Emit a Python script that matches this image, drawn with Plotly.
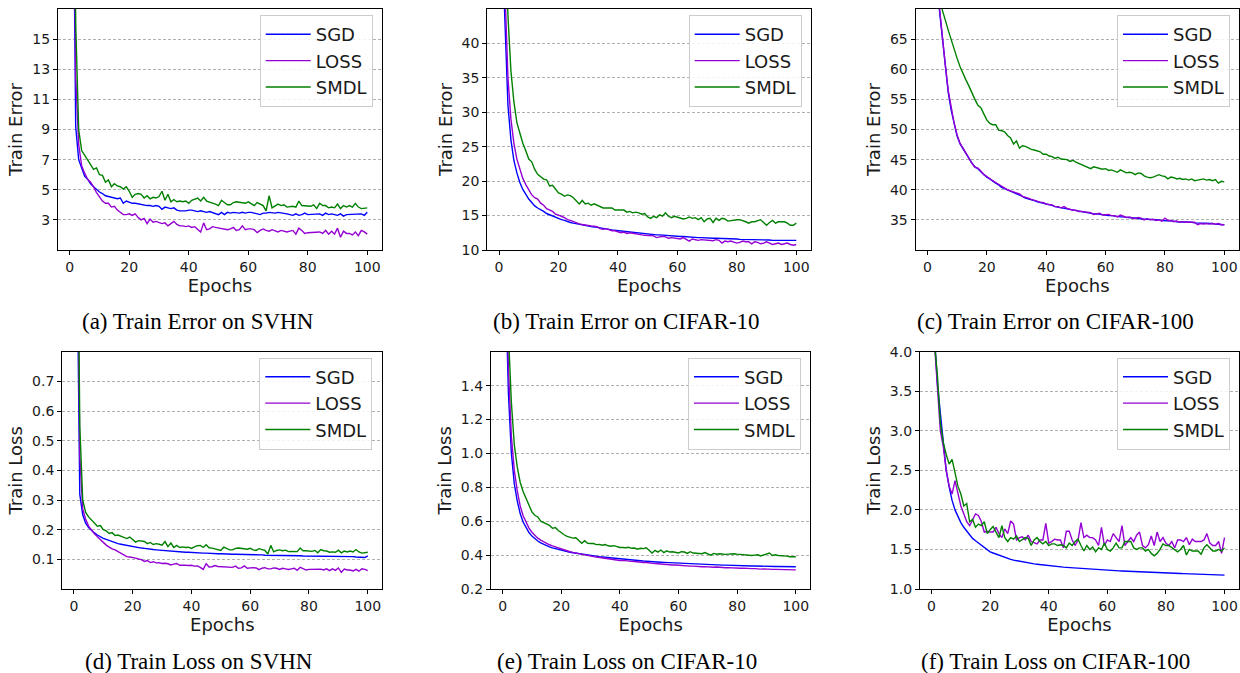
import plotly.graph_objects as go

epochs = list(range(1, 101))

# ---------------- (a) Train Error on SVHN ----------------
svhn_err_sgd = [30.0, 9.2, 7.0, 6.4, 5.9, 5.7, 5.4, 5.2, 5.0, 4.85,
                4.75, 4.6, 4.55, 4.5, 4.45, 4.4, 4.45, 4.1, 4.25, 4.15,
                4.1, 4.1, 4.05, 4.0, 4.0, 3.95, 3.95, 3.9, 3.95, 3.9,
                3.7, 3.85, 3.8, 3.75, 3.8, 3.65, 3.6, 3.6, 3.6, 3.65,
                3.65, 3.6, 3.55, 3.6, 3.55, 3.5, 3.55, 3.5, 3.45, 3.35,
                3.5, 3.35, 3.5, 3.45, 3.5, 3.45, 3.45, 3.5, 3.45, 3.5,
                3.5, 3.45, 3.4, 3.35, 3.45, 3.45, 3.5, 3.45, 3.45, 3.5,
                3.45, 3.45, 3.4, 3.35, 3.3, 3.4, 3.3, 3.35, 3.45, 3.35,
                3.35, 3.4, 3.35, 3.4, 3.3, 3.45, 3.35, 3.4, 3.35, 3.3,
                3.4, 3.25, 3.35, 3.35, 3.4, 3.35, 3.35, 3.4, 3.3, 3.5]
svhn_err_loss = [35.0, 12.5, 8.0, 6.6, 6.1, 5.7, 5.5, 5.2, 4.8, 4.5,
                 4.25, 4.1, 4.1, 3.85, 3.9, 3.65, 3.5, 3.35, 3.35, 3.4,
                 3.3, 3.4, 3.15, 3.0, 3.1, 2.75, 3.05, 2.85, 2.9, 2.8,
                 2.75, 2.8, 2.6, 2.75, 2.9, 2.7, 2.6, 2.6, 2.55, 2.6,
                 2.5, 2.55, 2.4, 2.2, 2.8, 2.35, 2.4, 2.55, 2.5, 2.45,
                 2.45, 2.4, 2.35, 2.4, 2.5, 2.3, 2.35, 2.6, 2.35, 2.4,
                 2.4, 2.35, 2.15, 2.3, 2.4, 2.3, 2.25, 2.35, 2.3, 2.2,
                 2.3, 2.25, 2.2, 2.25, 2.3, 2.05, 2.45, 2.3, 2.1, 2.15,
                 2.15, 2.2, 2.15, 2.2, 2.1, 2.3, 2.05, 2.25, 2.05, 2.45,
                 1.85, 2.25, 2.1, 2.1, 2.0, 2.2, 1.95, 2.3, 2.2, 2.05]
svhn_err_smdl = [40.0, 16.0, 9.0, 7.6, 7.3, 7.0, 6.7, 6.35, 6.45, 6.0,
                 5.95, 5.5, 5.65, 5.2, 5.4, 5.25, 5.2, 5.05, 5.2, 4.9,
                 4.5, 4.7, 4.75, 4.7, 4.45, 4.6, 4.4, 4.5, 4.45, 4.55,
                 4.9, 4.3, 4.7, 4.2, 4.35, 4.2, 4.25, 4.2, 4.25, 4.1,
                 4.3, 4.4, 4.45, 4.25, 4.5, 4.25, 4.2, 4.1, 4.05, 3.95,
                 4.3, 4.15, 4.0, 4.0, 4.15, 4.2, 4.15, 4.1, 4.1, 4.2,
                 4.05, 3.95, 4.15, 4.05, 3.95, 3.6, 4.6, 3.8, 3.95, 4.05,
                 3.95, 4.0, 3.85, 3.9, 3.9, 3.85, 4.25, 3.95, 3.95, 3.9,
                 3.9, 4.0, 3.75, 4.1, 3.95, 3.95, 3.8, 3.85, 3.8, 4.05,
                 3.75, 3.95, 3.85, 3.95, 3.85, 4.1, 3.85, 3.75, 3.8, 3.8]

# ---------------- (b) Train Error on CIFAR-10 ----------------
c10_err_sgd = [55.0, 43.0, 31.0, 26.0, 23.0, 21.2, 19.8, 18.8, 18.0, 17.4,
               16.9, 16.4, 16.1, 15.9, 15.6, 15.3, 15.1, 14.9, 14.7, 14.5,
               14.4, 14.3, 14.1, 14.0, 13.9, 13.8, 13.7, 13.6, 13.55, 13.5,
               13.4, 13.35, 13.3, 13.2, 13.1, 13.05, 13.0, 12.9, 12.85, 12.8,
               12.75, 12.7, 12.65, 12.6, 12.55, 12.5, 12.45, 12.4, 12.35, 12.3,
               12.3, 12.25, 12.2, 12.2, 12.15, 12.1, 12.1, 12.05, 12.0, 12.0,
               11.95, 11.95, 11.9, 11.9, 11.85, 11.85, 11.8, 11.8, 11.75, 11.75,
               11.75, 11.7, 11.7, 11.7, 11.65, 11.65, 11.6, 11.6, 11.6, 11.6,
               11.55, 11.55, 11.55, 11.5, 11.5, 11.5, 11.5, 11.45, 11.45, 11.45,
               11.45, 11.4, 11.4, 11.4, 11.4, 11.4, 11.4, 11.35, 11.4, 11.4]
c10_err_loss = [60.0, 46.0, 35.0, 29.0, 25.5, 23.2, 21.6, 20.4, 19.5, 18.7,
                18.0, 17.6, 17.4, 16.8, 16.5, 16.0, 15.8, 15.6, 15.2, 15.1,
                14.9, 14.7, 14.4, 14.3, 14.1, 13.9, 13.8, 13.7, 13.6, 13.55,
                13.5, 13.45, 13.4, 13.1, 13.0, 13.1, 12.9, 12.8, 12.8, 12.6,
                12.5, 12.6, 12.4, 12.5, 12.4, 12.3, 12.2, 12.2, 12.15, 12.1,
                12.1, 12.05, 11.8, 11.9, 12.0, 11.9, 11.7, 11.8, 11.75, 11.7,
                11.6, 11.8, 11.6, 11.3, 11.6, 11.5, 11.4, 11.5, 11.45, 11.4,
                11.3, 11.35, 11.5, 11.4, 11.0, 11.3, 11.2, 11.3, 11.15, 11.0,
                11.1, 11.3, 11.2, 11.2, 10.9, 11.2, 11.1, 10.9, 11.0, 11.2,
                11.0, 10.8, 10.9, 11.0, 10.8, 10.9, 11.0, 10.8, 10.7, 10.8]
c10_err_smdl = [70.0, 55.0, 44.0, 36.0, 31.5, 28.5, 27.0, 25.5, 24.4, 23.2,
                22.8, 21.7, 21.0, 20.6, 20.3, 20.2, 19.3, 19.4, 18.9, 18.3,
                18.1, 17.8, 18.0, 17.9, 17.6, 17.1, 16.7, 17.2, 16.7, 16.8,
                16.5, 16.7, 16.5, 16.3, 16.1, 16.1, 16.1, 16.1, 15.8, 15.8,
                15.7, 15.8, 15.5, 15.6, 15.4, 15.5, 15.4, 15.2, 15.3, 14.8,
                14.6, 14.9, 14.7, 15.1, 14.9, 15.4, 14.9, 14.7, 14.9, 14.8,
                14.7, 14.5, 14.6, 14.8, 14.6, 14.7, 14.4, 14.7, 14.1, 14.5,
                14.6, 14.0, 14.6, 14.3, 14.6, 14.5, 14.2, 14.3, 14.4, 14.4,
                14.4, 14.3, 14.1, 13.9, 14.1, 14.1, 14.3, 14.4, 14.0, 13.6,
                14.0, 14.3, 13.9, 14.1, 14.1, 14.1, 13.9, 13.6, 13.6, 13.9]

# ---------------- (c) Train Error on CIFAR-100 ----------------
c100_err_sgd = [90.0, 82.0, 76.0, 70.0, 65.0, 60.5, 56.2, 53.2, 50.8, 48.9,
                47.6, 46.8, 45.9, 45.1, 44.4, 43.8, 43.5, 43.0, 42.5, 42.1,
                41.8, 41.4, 41.1, 40.8, 40.4, 40.2, 40.0, 39.7, 39.5, 39.3,
                39.1, 38.9, 38.6, 38.5, 38.3, 38.2, 38.0, 37.9, 37.7, 37.6,
                37.5, 37.4, 37.2, 37.1, 37.0, 36.9, 36.8, 36.7, 36.6, 36.5,
                36.4, 36.3, 36.3, 36.2, 36.1, 36.0, 36.0, 35.9, 35.8, 35.8,
                35.7, 35.7, 35.6, 35.6, 35.5, 35.5, 35.4, 35.4, 35.3, 35.3,
                35.2, 35.2, 35.1, 35.1, 35.1, 35.0, 35.0, 35.0, 34.9, 34.9,
                34.8, 34.8, 34.8, 34.7, 34.7, 34.7, 34.6, 34.6, 34.6, 34.5,
                34.5, 34.5, 34.4, 34.4, 34.4, 34.4, 34.3, 34.3, 34.3, 34.2]
c100_err_loss = [90.0, 82.0, 76.0, 70.5, 65.3, 60.8, 56.5, 53.4, 51.0, 49.1,
                 47.7, 46.9, 46.0, 45.2, 44.4, 43.7, 43.6, 43.1, 42.5, 42.2,
                 41.8, 41.5, 41.2, 40.9, 40.5, 40.3, 40.0, 39.8, 39.6, 39.5,
                 39.3, 38.9, 38.8, 38.6, 38.4, 38.3, 38.1, 37.9, 37.9, 37.6,
                 37.6, 37.5, 37.2, 37.2, 37.0, 37.2, 36.9, 36.7, 36.6, 36.6,
                 36.4, 36.4, 36.3, 36.3, 36.2, 35.9, 36.0, 36.1, 35.8, 35.8,
                 35.9, 35.7, 35.7, 35.5, 35.8, 35.6, 35.4, 35.5, 35.3, 35.2,
                 35.4, 35.3, 35.0, 35.2, 35.0, 35.1, 34.9, 35.0, 34.8, 35.3,
                 34.9, 34.9, 34.7, 34.8, 34.6, 34.7, 34.6, 34.6, 34.5, 34.6,
                 34.2, 34.4, 34.3, 34.4, 34.3, 34.4, 34.3, 34.4, 34.2, 34.2]
c100_err_smdl = [85.0, 79.0, 74.0, 71.5, 70.0, 68.2, 66.5, 64.8, 63.2, 61.8,
                 60.4, 59.2, 58.2, 57.2, 56.0, 55.0, 54.0, 53.6, 52.6, 51.6,
                 51.0, 50.8, 50.8, 49.9, 49.8, 49.6, 49.0, 48.6, 47.6, 48.1,
                 46.9, 47.3, 47.2, 46.9, 46.7, 46.6, 46.5, 46.3, 45.9, 45.9,
                 45.6, 45.5, 45.2, 45.4, 45.1, 45.1, 45.0, 44.7, 44.9, 44.6,
                 44.4, 44.2, 44.0, 43.7, 43.5, 43.8, 43.7, 43.5, 43.4, 43.5,
                 43.2, 43.3, 43.1, 42.9, 43.3, 43.0, 42.8, 42.9, 42.8, 42.5,
                 42.8, 42.7, 42.3, 42.1, 42.0, 42.1, 42.3, 42.5, 42.3, 42.2,
                 41.8, 42.1, 42.0, 41.8, 41.9, 41.7, 41.8, 41.6, 41.8, 41.5,
                 41.6, 41.7, 41.8, 41.6, 41.7, 41.5, 41.7, 41.1, 41.4, 41.3]

# ---------------- (d) Train Loss on SVHN ----------------
svhn_loss_sgd = [1.2, 0.32, 0.25, 0.222, 0.207, 0.197, 0.189, 0.182, 0.176, 0.171,
                 0.167, 0.163, 0.159, 0.156, 0.153, 0.151, 0.149, 0.146, 0.144, 0.142,
                 0.141, 0.139, 0.138, 0.137, 0.135, 0.134, 0.133, 0.132, 0.131, 0.13,
                 0.129, 0.128, 0.128, 0.127, 0.126, 0.126, 0.125, 0.124, 0.124, 0.123,
                 0.123, 0.122, 0.122, 0.121, 0.121, 0.12, 0.12, 0.12, 0.119, 0.119,
                 0.118, 0.118, 0.118, 0.117, 0.117, 0.117, 0.116, 0.116, 0.116, 0.116,
                 0.115, 0.115, 0.115, 0.115, 0.114, 0.114, 0.114, 0.114, 0.113, 0.113,
                 0.113, 0.112, 0.113, 0.112, 0.112, 0.112, 0.112, 0.111, 0.111, 0.111,
                 0.111, 0.111, 0.11, 0.11, 0.11, 0.11, 0.11, 0.11, 0.109, 0.109,
                 0.109, 0.109, 0.109, 0.109, 0.109, 0.108, 0.108, 0.108, 0.106, 0.112]
svhn_loss_loss = [1.5, 0.45, 0.27, 0.235, 0.212, 0.197, 0.186, 0.176, 0.166, 0.157,
                  0.148, 0.141, 0.135, 0.132, 0.126, 0.122, 0.116, 0.109, 0.108, 0.107,
                  0.104, 0.101, 0.099, 0.093, 0.096, 0.089, 0.092, 0.088, 0.089, 0.086,
                  0.087, 0.085, 0.081, 0.084, 0.086, 0.08, 0.081, 0.08, 0.079, 0.08,
                  0.077, 0.078, 0.073, 0.066, 0.085, 0.074, 0.075, 0.079, 0.076, 0.075,
                  0.075, 0.073, 0.072, 0.073, 0.077, 0.07, 0.071, 0.078, 0.07, 0.072,
                  0.072, 0.071, 0.065, 0.07, 0.072, 0.068, 0.068, 0.071, 0.07, 0.066,
                  0.07, 0.068, 0.066, 0.068, 0.07, 0.063, 0.073, 0.069, 0.064, 0.066,
                  0.066, 0.067, 0.065, 0.067, 0.064, 0.068, 0.062, 0.068, 0.063, 0.071,
                  0.056, 0.067, 0.064, 0.064, 0.061, 0.066, 0.06, 0.068, 0.066, 0.062]
svhn_loss_smdl = [1.6, 0.55, 0.3, 0.258, 0.243, 0.232, 0.22, 0.212, 0.214, 0.2,
                  0.196, 0.187, 0.19, 0.18, 0.182, 0.178, 0.176, 0.17, 0.175, 0.165,
                  0.158, 0.163, 0.162, 0.16, 0.153, 0.157, 0.15, 0.153, 0.151, 0.148,
                  0.16, 0.143, 0.155, 0.14, 0.147, 0.14, 0.142, 0.14, 0.141, 0.137,
                  0.142, 0.146, 0.147, 0.14, 0.149, 0.139, 0.138, 0.135, 0.134, 0.13,
                  0.141, 0.136, 0.132, 0.132, 0.137, 0.138, 0.136, 0.134, 0.134, 0.137,
                  0.132, 0.13, 0.136, 0.133, 0.13, 0.118, 0.147, 0.125, 0.13, 0.132,
                  0.129, 0.131, 0.126, 0.127, 0.127, 0.126, 0.138, 0.129, 0.129, 0.127,
                  0.127, 0.13, 0.122, 0.133, 0.129, 0.128, 0.124, 0.125, 0.124, 0.131,
                  0.122, 0.128, 0.125, 0.128, 0.125, 0.133, 0.125, 0.121, 0.123, 0.124]

# ---------------- (e) Train Loss on CIFAR-10 ----------------
c10_loss_sgd = [2.0, 1.35, 1.0, 0.82, 0.72, 0.645, 0.595, 0.56, 0.533, 0.512,
                0.496, 0.483, 0.472, 0.463, 0.456, 0.449, 0.443, 0.438, 0.433, 0.429,
                0.425, 0.421, 0.417, 0.414, 0.411, 0.408, 0.405, 0.402, 0.4, 0.397,
                0.395, 0.393, 0.391, 0.389, 0.387, 0.385, 0.383, 0.381, 0.379, 0.377,
                0.376, 0.374, 0.373, 0.371, 0.37, 0.368, 0.366, 0.365, 0.364, 0.362,
                0.361, 0.36, 0.359, 0.358, 0.357, 0.356, 0.355, 0.354, 0.353, 0.352,
                0.351, 0.35, 0.349, 0.349, 0.348, 0.347, 0.346, 0.346, 0.345, 0.344,
                0.344, 0.343, 0.342, 0.342, 0.341, 0.341, 0.34, 0.34, 0.339, 0.339,
                0.338, 0.338, 0.337, 0.337, 0.336, 0.336, 0.335, 0.335, 0.335, 0.334,
                0.334, 0.333, 0.333, 0.333, 0.332, 0.332, 0.332, 0.331, 0.331, 0.331]
c10_loss_loss = [2.2, 1.5, 1.1, 0.9, 0.78, 0.69, 0.632, 0.59, 0.559, 0.535,
                 0.516, 0.5, 0.488, 0.478, 0.469, 0.461, 0.454, 0.448, 0.441, 0.436,
                 0.43, 0.425, 0.42, 0.416, 0.412, 0.408, 0.404, 0.401, 0.397, 0.394,
                 0.391, 0.389, 0.386, 0.384, 0.381, 0.379, 0.377, 0.375, 0.372, 0.368,
                 0.369, 0.366, 0.366, 0.363, 0.362, 0.359, 0.358, 0.356, 0.356, 0.353,
                 0.352, 0.35, 0.349, 0.347, 0.347, 0.345, 0.344, 0.342, 0.342, 0.34,
                 0.339, 0.338, 0.337, 0.335, 0.335, 0.333, 0.333, 0.331, 0.332, 0.33,
                 0.329, 0.328, 0.33, 0.327, 0.326, 0.325, 0.326, 0.324, 0.323, 0.323,
                 0.322, 0.323, 0.321, 0.321, 0.32, 0.32, 0.318, 0.317, 0.319, 0.317,
                 0.317, 0.316, 0.316, 0.316, 0.315, 0.314, 0.315, 0.314, 0.313, 0.313]
c10_loss_smdl = [2.5, 1.7, 1.3, 1.05, 0.92, 0.83, 0.775, 0.735, 0.695, 0.655,
                 0.635, 0.625, 0.6, 0.59, 0.585, 0.575, 0.558, 0.563, 0.545, 0.53,
                 0.52, 0.51, 0.505, 0.5, 0.502, 0.488, 0.47, 0.485, 0.47, 0.468,
                 0.468, 0.462, 0.463, 0.458, 0.462, 0.455, 0.452, 0.456, 0.45, 0.445,
                 0.445, 0.443, 0.446, 0.44, 0.442, 0.435, 0.44, 0.438, 0.443, 0.43,
                 0.412, 0.428, 0.418, 0.43, 0.415, 0.425, 0.418, 0.42, 0.415, 0.413,
                 0.42, 0.418, 0.41, 0.42, 0.412, 0.41, 0.412, 0.408, 0.415, 0.408,
                 0.4, 0.41, 0.405, 0.408, 0.405, 0.404, 0.406, 0.408, 0.408, 0.406,
                 0.404, 0.402, 0.398, 0.4, 0.398, 0.4, 0.402, 0.395, 0.4, 0.404,
                 0.412, 0.398, 0.402, 0.398, 0.398, 0.396, 0.394, 0.39, 0.388, 0.39]

# ---------------- (f) Train Loss on CIFAR-100 ----------------
c100_loss_sgd = [4.2, 3.6, 3.22, 2.84, 2.5, 2.29, 2.12, 2.0, 1.91, 1.84,
                 1.78, 1.73, 1.68, 1.64, 1.61, 1.58, 1.55, 1.52, 1.5, 1.47,
                 1.455, 1.44, 1.425, 1.41, 1.395, 1.385, 1.375, 1.365, 1.357, 1.35,
                 1.343, 1.336, 1.33, 1.324, 1.318, 1.313, 1.308, 1.303, 1.299, 1.295,
                 1.291, 1.287, 1.283, 1.28, 1.276, 1.273, 1.27, 1.267, 1.264, 1.261,
                 1.258, 1.256, 1.253, 1.251, 1.248, 1.246, 1.244, 1.241, 1.239, 1.237,
                 1.235, 1.233, 1.231, 1.229, 1.227, 1.225, 1.223, 1.222, 1.22, 1.218,
                 1.217, 1.215, 1.213, 1.212, 1.21, 1.209, 1.207, 1.206, 1.204, 1.203,
                 1.201, 1.2, 1.199, 1.197, 1.196, 1.195, 1.193, 1.192, 1.191, 1.19,
                 1.188, 1.187, 1.186, 1.185, 1.184, 1.183, 1.181, 1.18, 1.179, 1.175]
c100_loss_loss = [4.1, 3.6, 3.0, 2.8, 2.5, 2.3, 2.2, 2.37, 2.2, 2.05,
                  1.95, 1.85, 1.8, 1.88, 1.95, 1.93, 1.85, 1.72, 1.73, 1.72,
                  1.72, 1.78, 1.7, 1.65, 1.76, 1.7, 1.86, 1.82, 1.62, 1.65,
                  1.66, 1.62, 1.68, 1.6, 1.58, 1.57, 1.62, 1.62, 1.83, 1.58,
                  1.6, 1.63, 1.62, 1.62, 1.52, 1.73, 1.73, 1.62, 1.55, 1.62,
                  1.84, 1.65, 1.68, 1.65, 1.65, 1.62, 1.55, 1.78, 1.55, 1.62,
                  1.6, 1.7, 1.65, 1.6, 1.8, 1.55, 1.6, 1.65, 1.6, 1.68,
                  1.72, 1.55, 1.52, 1.56, 1.67, 1.55, 1.72, 1.6, 1.65, 1.58,
                  1.55, 1.6, 1.52, 1.62, 1.62, 1.6, 1.65, 1.56, 1.63, 1.6,
                  1.6, 1.6, 1.62, 1.7, 1.58, 1.55, 1.55, 1.6, 1.45, 1.65]
c100_loss_smdl = [4.1, 3.7, 3.1, 2.85, 2.7, 2.58, 2.64, 2.45, 2.3, 2.2,
                  2.05, 2.08, 1.85, 1.88, 1.78, 1.82, 1.8, 1.85, 1.7, 1.75,
                  1.79, 1.72, 1.65, 1.8, 1.65, 1.6, 1.65, 1.63, 1.67, 1.6,
                  1.62, 1.65, 1.64, 1.55, 1.62, 1.65, 1.6, 1.57, 1.6, 1.55,
                  1.57, 1.57, 1.55, 1.56, 1.55, 1.52, 1.58, 1.55, 1.6, 1.63,
                  1.55, 1.48, 1.55, 1.5, 1.53, 1.47, 1.52, 1.5, 1.58, 1.5,
                  1.48, 1.52, 1.58, 1.52, 1.52, 1.6, 1.6, 1.6, 1.52, 1.5,
                  1.52, 1.52, 1.48, 1.5, 1.45, 1.42, 1.45, 1.5, 1.57, 1.55,
                  1.55, 1.52, 1.5, 1.47, 1.5, 1.55, 1.43, 1.5, 1.48, 1.48,
                  1.48, 1.44, 1.52, 1.56, 1.52, 1.48, 1.48, 1.5, 1.48, 1.52]

series_names = ["SGD", "LOSS", "SMDL"]
series_colors = ["#0000ff", "#9400d3", "#008000"]
x_ticks = [0, 20, 40, 60, 80, 100]

panels = [
    dict(data=[svhn_err_sgd, svhn_err_loss, svhn_err_smdl], ylabel="Train Error",
         caption="(a) Train Error on SVHN", yrange=[1, 17],
         yticks=[3, 5, 7, 9, 11, 13, 15], yfmt="{:d}"),
    dict(data=[c10_err_sgd, c10_err_loss, c10_err_smdl], ylabel="Train Error",
         caption="(b) Train Error on CIFAR-10", yrange=[10, 45],
         yticks=[10, 15, 20, 25, 30, 35, 40], yfmt="{:d}"),
    dict(data=[c100_err_sgd, c100_err_loss, c100_err_smdl], ylabel="Train Error",
         caption="(c) Train Error on CIFAR-100", yrange=[30, 70],
         yticks=[35, 40, 45, 50, 55, 60, 65], yfmt="{:d}"),
    dict(data=[svhn_loss_sgd, svhn_loss_loss, svhn_loss_smdl], ylabel="Train Loss",
         caption="(d) Train Loss on SVHN", yrange=[0, 0.8],
         yticks=[0.1, 0.2, 0.3, 0.4, 0.5, 0.6, 0.7], yfmt="{:.1f}"),
    dict(data=[c10_loss_sgd, c10_loss_loss, c10_loss_smdl], ylabel="Train Loss",
         caption="(e) Train Loss on CIFAR-10", yrange=[0.2, 1.6],
         yticks=[0.2, 0.4, 0.6, 0.8, 1.0, 1.2, 1.4], yfmt="{:.1f}"),
    dict(data=[c100_loss_sgd, c100_loss_loss, c100_loss_smdl], ylabel="Train Loss",
         caption="(f) Train Loss on CIFAR-100", yrange=[1.0, 4.0],
         yticks=[1.0, 1.5, 2.0, 2.5, 3.0, 3.5, 4.0], yfmt="{:.1f}"),
]

# figure fills the whole 1240x673 page (body margin removed by post_script)
W, H = 1240, 673
geom = [
    dict(x0=58, x1=382, y0=9, y1=250, lx=372.7, ly=15, cx=198, cy=321.7),
    dict(x0=487.3, x1=811, y0=9, y1=250, lx=801.7, ly=15, cx=626.7, cy=321.7),
    dict(x0=915.7, x1=1239, y0=9, y1=250, lx=1230, ly=15, cx=1055.8, cy=321.7),
    dict(x0=62.3, x1=382.3, y0=351.7, y1=589, lx=372.3, ly=357.5, cx=198.5, cy=661.7),
    dict(x0=491, x1=810.3, y0=351.7, y1=589, lx=801, ly=357.5, cx=627.2, cy=661.7),
    dict(x0=920, x1=1239, y0=351.7, y1=589, lx=1230, ly=357.5, cx=1055.7, cy=661.7),
]


def fx(px):
    return min(max(px / W, 0.0), 1.0)


def fy(py):
    return min(max(1 - py / H, 0.0), 1.0)


fig = go.Figure()
layout = dict(
    width=W, height=H, margin=dict(l=0, r=0, t=0, b=0, pad=0, autoexpand=False),
    autosize=False,
    paper_bgcolor="white", plot_bgcolor="white",
    font=dict(family="DejaVu Sans", size=14, color="#1a1a1a"),
    annotations=[],
)

for i, (p, g) in enumerate(zip(panels, geom)):
    k = "" if i == 0 else str(i + 1)
    leg = "legend" + k
    for name, color, ys in zip(series_names, series_colors, p["data"]):
        fig.add_trace(go.Scatter(
            x=epochs, y=ys, mode="lines", name=name,
            line=dict(color=color, width=1.4),
            xaxis="x" + k, yaxis="y" + k, legend=leg, showlegend=True,
        ))
    layout["xaxis" + k] = dict(
        domain=[fx(g["x0"]), fx(g["x1"])], anchor="y" + k,
        range=[-3.95, 104.95], tickvals=x_ticks, ticktext=[str(v) for v in x_ticks],
        ticks="outside", ticklen=4, tickwidth=1, tickcolor="black",
        showline=True, mirror=True, linecolor="black", linewidth=1.3,
        showgrid=False, zeroline=False,
        tickfont=dict(size=14, color="#1a1a1a"),
        title=dict(text="Epochs", font=dict(size=18, color="#1a1a1a"), standoff=2),
    )
    layout["yaxis" + k] = dict(
        domain=[fy(g["y1"]), fy(g["y0"])], anchor="x" + k,
        range=p["yrange"], tickvals=p["yticks"],
        ticktext=[p["yfmt"].format(v) for v in p["yticks"]],
        ticks="outside", ticklen=4, tickwidth=1, tickcolor="black",
        showline=True, mirror=True, linecolor="black", linewidth=1.3,
        showgrid=True, gridcolor="#b0b0b0", griddash="3px,2px", gridwidth=0.8,
        zeroline=False,
        tickfont=dict(size=14, color="#1a1a1a"),
        title=dict(text=p["ylabel"], font=dict(size=18, color="#1a1a1a"), standoff=4),
    )
    layout[leg] = dict(
        x=fx(g["lx"]), y=fy(g["ly"]), xanchor="right", yanchor="top",
        bgcolor="rgba(255,255,255,0.85)", bordercolor="#cccccc", borderwidth=1,
        font=dict(family="DejaVu Sans", size=18, color="#1a1a1a"),
        itemwidth=45, tracegroupgap=0,
    )
    layout["annotations"].append(dict(
        text=p["caption"], x=fx(g["cx"]), y=fy(g["cy"]), xref="paper", yref="paper",
        xanchor="center", yanchor="middle", showarrow=False,
        font=dict(family="Liberation Serif", size=23, color="black"),
    ))

fig.update_layout(**layout)
fig.write_html(
    "out.html",
    config={"responsive": False, "displayModeBar": False},
    post_script="document.body.style.margin='0';document.body.style.overflow='hidden';",
)
